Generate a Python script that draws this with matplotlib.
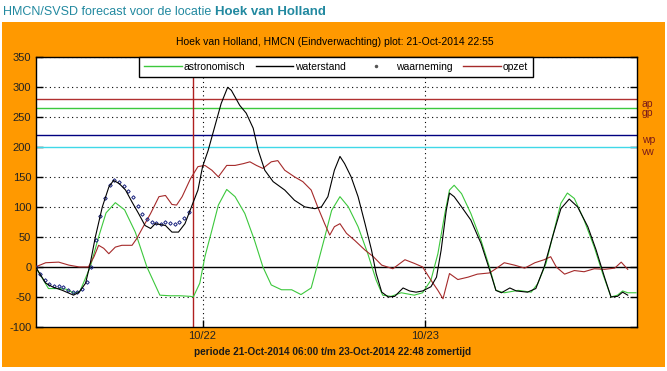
import matplotlib
matplotlib.use('Agg')
import matplotlib.pyplot as plt
from matplotlib.lines import Line2D
import matplotlib.patches as mpatches

# hours since 21-Oct-2014 06:00
astro_t = [0, 1.4, 2.5, 3.3, 4.2, 4.8, 5.9, 6.8, 7.6, 8.6, 9.6, 10.75, 12.0, 13.4, 14.5, 15.6, 16.7, 17.0,
           17.7, 18.25, 19.0, 19.7, 20.6, 21.5, 22.55, 23.6, 24.5, 25.4, 26.5, 27.6, 28.6, 29.7, 30.4,
           31.15, 31.9, 32.8, 33.7, 34.75, 35.8, 36.7, 37.4, 38.3, 39.4, 40.8, 41.7, 42.6, 43.35, 44.1,
           44.6, 45.1, 45.9, 46.9, 48.0, 48.9, 49.6, 50.5, 52.0, 53.4, 54.1, 55.0, 55.7, 56.6, 57.3,
           58.05, 59.1, 60.2, 61.1, 62.0, 62.7, 63.25, 63.8, 64.7]
astro_v = [0, -36, -36, -37, -44, -40, 0, 50, 90, 107, 95, 58, 0, -47, -48, -48, -49, -50,
           -27, 17, 61, 103, 129, 117, 89, 44, 0, -30, -38, -38, -46, -35, 5,
           49, 94, 117, 100, 67, 22, -22, -47, -49, -43, -47, -43, -22, 22, 89,
           128, 136, 122, 89, 44, 0, -39, -43, -39, -42, -28, 6, 50, 106, 123,
           114, 78, 33, -11, -50, -47, -40, -43, -43]

water_t = [0, 1.1, 1.8, 2.9, 4.1, 4.7, 5.4, 5.9, 6.45, 7.2, 7.9, 8.4, 9.0, 9.7, 10.4, 11.1, 11.8, 12.4,
           12.9, 14.0, 14.7, 15.4, 16.1, 16.8, 17.5, 18.0, 18.6, 19.3, 20.0, 20.7, 21.1, 22.0, 22.7,
           23.45, 24.0, 24.7, 25.6, 26.85, 27.9, 29.0, 30.1, 30.8, 31.5, 32.2, 32.8, 33.3, 34.0, 34.75,
           35.5, 36.2, 36.7, 37.3, 38.0, 38.7, 39.6, 40.3, 41.0, 41.7, 42.6, 43.2, 43.7, 44.25, 44.6,
           45.1, 45.9, 46.9, 48.0, 48.9, 49.6, 50.2, 51.1, 51.8, 53.0, 53.9, 54.8, 55.7, 56.6, 57.5,
           58.4, 59.5, 60.4, 61.3, 62.0, 62.7, 63.25, 63.8]
water_v = [0, -27, -33, -39, -47, -42, -27, 6, 50, 100, 133, 144, 139, 128, 108, 89, 69, 64,
           72, 69, 58, 58, 72, 100, 128, 167, 194, 233, 272, 299, 294, 269, 256,
           231, 194, 161, 142, 128, 111, 100, 97, 100, 117, 161, 184, 172, 150, 117,
           72, 28, -11, -42, -50, -49, -35, -40, -42, -40, -33, -17, 28, 94, 123,
           117, 100, 78, 39, -4, -39, -43, -35, -40, -42, -36, 0, 50, 97, 113,
           100, 67, 28, -17, -50, -49, -42, -47]

obs_t = [0, 0.5, 1, 1.5, 2, 2.5, 3, 3.5, 4, 4.5, 5, 5.5, 6, 6.5, 7, 7.5, 8, 8.5, 9, 9.5, 10, 10.5,
         11, 11.5, 12, 12.5, 13, 13.5, 14, 14.5, 15, 15.5, 16, 16.5]
obs_v = [0, -12, -22, -28, -31, -32, -34, -38, -41, -42, -36, -25, 0, 45, 85, 115, 137, 144, 141,
         134, 126, 116, 101, 88, 79, 75, 73, 72, 74, 73, 71, 74, 82, 92]

opzet_t = [0, 1.1, 2.5, 3.6, 4.7, 5.7, 6.3, 6.8, 7.35, 7.9, 8.6, 9.3, 10.4, 10.9, 11.5, 12.4, 13.3, 14.0,
           14.7, 15.2, 15.8, 16.7, 17.5, 18.25, 19.0, 19.7, 20.6, 21.5, 22.4, 23.1, 23.8, 24.5, 25.4,
           26.1, 26.85, 27.9, 28.8, 29.7, 30.4, 31.15, 31.7, 32.2, 32.8, 33.5, 34.4, 35.5, 36.4, 37.3,
           38.5, 39.8, 40.8, 41.7, 42.6, 43.35, 43.9, 44.6, 45.5, 46.6, 47.6, 48.9, 49.5, 50.5, 51.6,
           52.7, 53.8, 54.8, 55.5, 56.1, 57.0, 58.05, 59.1, 60.2, 61.3, 62.4, 63.1, 63.8]
opzet_v = [0, 7, 8, 3, 0, 0, 17, 36, 31, 22, 33, 36, 36, 47, 64, 89, 117, 119,
           104, 103, 117, 147, 167, 169, 161, 150, 169, 169, 172, 175, 169, 164, 175,
           177, 161, 150, 142, 128, 100, 72, 53, 67, 72, 56, 44, 28, 17, 3,
           -3, 12, 6, 0, -22, -39, -53, -11, -21, -17, -12, -10, -4, 7, 3,
           -2, 7, 12, 17, 0, -12, -6, -8, -3, -4, -2, 8, -4]

thresholds = [280, 265, 220, 200]
threshold_names = ['ap', 'gp', 'wp', 'vw']
threshold_colors = ['#B03030', '#3CC83C', '#000080', '#40D8E8']

plot_time = 16.92
tick_pos = [18, 42]
tick_labels = ['10/22', '10/23']
t_end = 64.8

W, H = 667, 371
fig = plt.figure(figsize=(W / 100, H / 100), dpi=100)
fig.patch.set_facecolor('white')
rect = mpatches.Rectangle((2 / W, 4 / H), 663 / W, 345 / H, transform=fig.transFigure,
                          facecolor='#FF9900', edgecolor='none', zorder=-5)
fig.add_artist(rect)

ax = fig.add_axes([35.5 / W, 44 / H, 601.5 / W, 270.3 / H])
ax.set_facecolor('white')
ax.set_xlim(0, t_end)
ax.set_ylim(-100, 350)

# grid
for v in [-50, 50, 100, 150, 250, 300, 350]:
    ax.axhline(v, color='black', lw=0.8, ls=(0, (1, 3)), zorder=1)
for p in tick_pos:
    ax.axvline(p, color='black', lw=0.8, ls=(0, (1, 3)), zorder=1)
ax.axhline(0, color='black', lw=1.0, zorder=2)

for v, n, c in zip(thresholds, threshold_names, threshold_colors):
    ax.axhline(v, color=c, lw=1.0, zorder=2)
    ax.text(1.008, v - 8, n, transform=ax.get_yaxis_transform(), color='#7A1A1A',
            fontsize=7.5, family='Liberation Sans', va='center', ha='left')

ax.axvline(plot_time, color='#B02020', lw=1.0, zorder=2)

ax.plot(astro_t, astro_v, color='#3CC83C', lw=0.8, zorder=3)
ax.plot(opzet_t, opzet_v, color='#A52A2A', lw=0.8, zorder=3)
ax.plot(obs_t, obs_v, ls='none', marker='D', ms=1.8, mfc='none', mec='#1A237E', mew=0.7, zorder=4)
ax.plot(water_t, water_v, color='black', lw=0.8, zorder=5)

ax.set_yticks(range(-100, 351, 50))
ax.set_yticklabels([str(v) for v in range(-100, 351, 50)])
ax.set_xticks(tick_pos)
ax.set_xticklabels(tick_labels)
ax.tick_params(direction='in', length=5, width=1, top=True, right=True, colors='black',
               labelsize=8, pad=3)
for lab in ax.get_xticklabels() + ax.get_yticklabels():
    lab.set_family('Liberation Sans')
    lab.set_color('#222222')
for s in ax.spines.values():
    s.set_color('black')
    s.set_linewidth(1.0)

handles = [Line2D([], [], color='#3CC83C', lw=1.0),
           Line2D([], [], color='black', lw=1.0),
           Line2D([], [], ls='none', marker='.', ms=3, color='#555555'),
           Line2D([], [], color='#A52A2A', lw=1.0)]
leg = ax.legend(handles, ['astronomisch', 'waterstand', 'waarneming', 'opzet'], ncol=4,
                loc='upper center', bbox_to_anchor=(0.5, 1.0), frameon=True, fancybox=False,
                edgecolor='black', framealpha=1, prop={'family': 'Liberation Sans', 'size': 7.5},
                handlelength=3.6, handletextpad=0.2, columnspacing=1.0, borderpad=0.5,
                borderaxespad=0.0)
leg.get_frame().set_linewidth(1.0)
leg.set_zorder(10)

fig.text(335 / W, 1 - 42 / H, 'Hoek van Holland, HMCN (Eindverwachting) plot: 21-Oct-2014 22:55',
         ha='center', va='center', fontsize=7.5, family='Liberation Sans', color='black')
fig.text(333 / W, 1 - 352 / H, 'periode 21-Oct-2014 06:00 t/m 23-Oct-2014 22:48 zomertijd',
         ha='center', va='center', fontsize=7.2, family='Liberation Sans', weight='bold',
         color='#1a1a1a')

renderer = fig.canvas.get_renderer()
t1 = fig.text(3 / W, 1 - 12 / H, 'HMCN/SVSD forecast voor de locatie ', ha='left', va='center',
              fontsize=9, family='Liberation Sans', color='#2289A0')
bb = t1.get_window_extent(renderer=renderer)
fig.text(bb.x1 / W, 1 - 12 / H, 'Hoek van Holland', ha='left', va='center', fontsize=9.5,
         family='Liberation Sans', weight='bold', color='#2289A0')

fig.savefig('out.png', dpi=100)
